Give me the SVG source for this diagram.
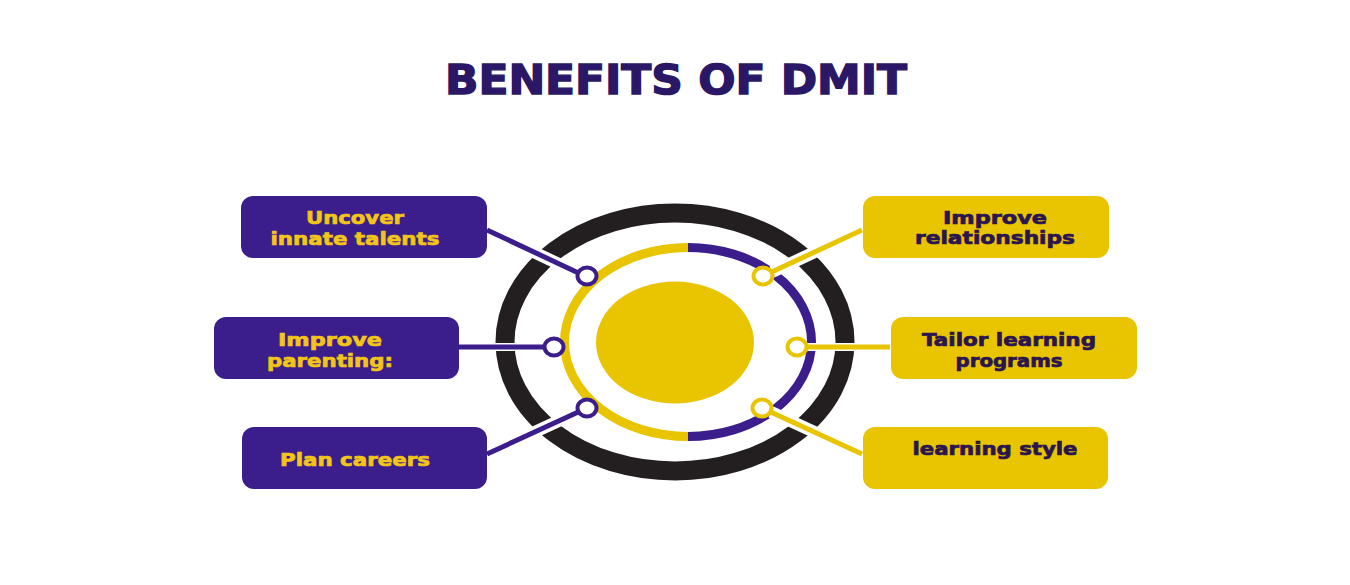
<svg xmlns="http://www.w3.org/2000/svg" width="1350" height="585" viewBox="0 0 1350 585">
<style>
.title{font-family:"DejaVu Sans","Liberation Sans",sans-serif;font-weight:700;font-size:40px;fill:#2a1766;stroke:#2a1766;stroke-width:1.4}
.lt{font-family:"DejaVu Sans","Liberation Sans",sans-serif;font-weight:700;font-size:18px;fill:#f2c518;stroke:#f2c518;stroke-width:0.7;text-anchor:middle}
.rt{font-family:"DejaVu Sans","Liberation Sans",sans-serif;font-weight:700;font-size:18px;fill:#2a1550;stroke:#2a1550;stroke-width:0.7;text-anchor:middle}
.pbox{fill:#3b1e8c}
.ybox{fill:#e9c400}
.halo{stroke:#ffffff;stroke-width:12;fill:none}
.haloh{stroke:#ffffff;stroke-width:8;fill:none}
.pl{stroke:#3b1e8c;stroke-width:5;fill:none}
.yl{stroke:#e9c400;stroke-width:5;fill:none}
.pdot{fill:#ffffff;stroke:#3b1e8c;stroke-width:4}
.ydot{fill:#ffffff;stroke:#e9c400;stroke-width:4}
</style>
<rect width="1350" height="585" fill="#ffffff"/>
<text class="title" x="445" y="94" textLength="462" lengthAdjust="spacingAndGlyphs">BENEFITS OF DMIT</text>

<g id="hub">
<ellipse cx="675" cy="342" rx="170" ry="129" fill="none" stroke="#231f20" stroke-width="19"/>
<path d="M688 247.5 A123.5 94.5 0 0 0 688 436.5" fill="none" stroke="#e9c400" stroke-width="9"/>
<path d="M688 247.5 A123.5 94.5 0 0 1 688 436.5" fill="none" stroke="#3b1e8c" stroke-width="9"/>
<ellipse cx="675" cy="342.5" rx="79" ry="61" fill="#e9c400"/>
</g>

<g id="connectors">
<line class="halo" x1="487" y1="230" x2="578" y2="273"/>
<line class="haloh" x1="459" y1="347" x2="545" y2="347"/>
<line class="halo" x1="487" y1="454" x2="578" y2="412"/>
<line class="halo" x1="862" y1="230" x2="772" y2="272"/>
<line class="haloh" x1="890" y1="347" x2="806" y2="347"/>
<line class="halo" x1="862" y1="454" x2="771" y2="412"/>
<line class="pl" x1="487" y1="230" x2="587" y2="277"/>
<line class="pl" x1="459" y1="347" x2="554" y2="347"/>
<line class="pl" x1="487" y1="454" x2="587" y2="408"/>
<line class="yl" x1="862" y1="230" x2="763" y2="276"/>
<line class="yl" x1="890" y1="347" x2="797" y2="347"/>
<line class="yl" x1="862" y1="454" x2="762" y2="408"/>
<ellipse class="pdot" cx="587" cy="276" rx="9.5" ry="8.5"/>
<ellipse class="pdot" cx="554" cy="347" rx="9.5" ry="8.5"/>
<ellipse class="pdot" cx="587" cy="408" rx="9.5" ry="8.5"/>
<ellipse class="ydot" cx="763" cy="276" rx="9.5" ry="8.5"/>
<ellipse class="ydot" cx="797" cy="347" rx="9.5" ry="8.5"/>
<ellipse class="ydot" cx="762" cy="408" rx="9.5" ry="8.5"/>
</g>

<g id="node-uncover">
<rect class="pbox" x="241" y="196" width="246" height="62" rx="12"/>
<text class="lt" x="355" y="224" textLength="98" lengthAdjust="spacingAndGlyphs">Uncover</text>
<text class="lt" x="355" y="245" textLength="169" lengthAdjust="spacingAndGlyphs">innate talents</text>
</g>
<g id="node-parenting">
<rect class="pbox" x="214" y="317" width="245" height="62" rx="12"/>
<text class="lt" x="330" y="346" textLength="104" lengthAdjust="spacingAndGlyphs">Improve</text>
<text class="lt" x="330" y="367" textLength="126" lengthAdjust="spacingAndGlyphs">parenting:</text>
</g>
<g id="node-careers">
<rect class="pbox" x="242" y="427" width="245" height="62" rx="12"/>
<text class="lt" x="355" y="466" textLength="150" lengthAdjust="spacingAndGlyphs">Plan careers</text>
</g>
<g id="node-relationships">
<rect class="ybox" x="863" y="196" width="246" height="62" rx="12"/>
<text class="rt" x="995" y="224" textLength="104" lengthAdjust="spacingAndGlyphs">Improve</text>
<text class="rt" x="995" y="244" textLength="160" lengthAdjust="spacingAndGlyphs">relationships</text>
</g>
<g id="node-tailor">
<rect class="ybox" x="891" y="317" width="246" height="62" rx="12"/>
<text class="rt" x="1009" y="346" textLength="174" lengthAdjust="spacingAndGlyphs">Tailor learning</text>
<text class="rt" x="1009" y="367" textLength="107" lengthAdjust="spacingAndGlyphs">programs</text>
</g>
<g id="node-style">
<rect class="ybox" x="863" y="427" width="245" height="62" rx="12"/>
<text class="rt" x="995" y="455" textLength="165" lengthAdjust="spacingAndGlyphs">learning style</text>
</g>
</svg>
